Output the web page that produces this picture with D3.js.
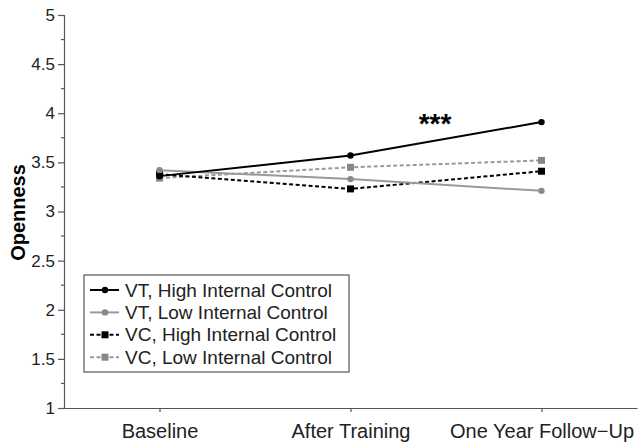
<!DOCTYPE html>
<html>
<head>
<meta charset="utf-8">
<script src="https://cdn.jsdelivr.net/npm/d3@7"></script>
<style>
  body { margin: 0; background: #fff; }
  text { font-family: "Liberation Sans", Arial, sans-serif; }
</style>
</head>
<body>
<div id="chart"></div>
<script>
// Data
const timepoints = ["Baseline", "After Training", "One Year Follow\u2212Up"];
const vtHigh = [3.36, 3.57, 3.91];
const vtLow = [3.42, 3.33, 3.21];
const vcHigh = [3.38, 3.23, 3.41];
const vcLow = [3.34, 3.45, 3.52];
const seriesNames = ["VT, High Internal Control", "VT, Low Internal Control",
                     "VC, High Internal Control", "VC, Low Internal Control"];
const yTicks = [1, 1.5, 2, 2.5, 3, 3.5, 4, 4.5, 5];
const yMinorTicks = [1.25, 1.75, 2.25, 2.75, 3.25, 3.75, 4.25, 4.75];

const series = [
    {name: seriesNames[0], values: vtHigh, color: "#000", dash: null, marker: "circle"},
    {name: seriesNames[1], values: vtLow, color: "#999", dash: null, marker: "circle"},
    {name: seriesNames[2], values: vcHigh, color: "#000", dash: "4,2.5", marker: "square"},
    {name: seriesNames[3], values: vcLow, color: "#999", dash: "4,2.5", marker: "square"}
];

const width = 638, height = 442;
const margin = {top: 15, left: 64, right: 1, bottom: 34};

const svg = d3.select("#chart").append("svg")
    .attr("width", width)
    .attr("height", height);

const xScale = d3.scalePoint()
    .domain(timepoints)
    .range([margin.left, width - margin.right])
    .padding(0.5);

const yScale = d3.scaleLinear()
    .domain([1, 5])
    .range([height - margin.bottom, margin.top]);

const axisColor = "#555";

// y axis
const yAxisGroup = svg.append("g")
    .attr("transform", `translate(${margin.left},0)`)
    .call(d3.axisLeft(yScale).tickValues(yTicks).tickSize(6).tickPadding(3).tickFormat(d3.format("")));
yAxisGroup.selectAll(".tick text").style("font-size", "17px").attr("fill", "#222");

yAxisGroup.selectAll(".minor")
    .data(yMinorTicks)
    .enter().append("line")
    .attr("class", "minor")
    .attr("x1", -3).attr("x2", 0)
    .attr("y1", d => yScale(d)).attr("y2", d => yScale(d));

// x axis
const xAxisGroup = svg.append("g")
    .attr("transform", `translate(0,${height - margin.bottom})`)
    .call(d3.axisBottom(xScale).tickSize(4).tickPadding(12).tickSizeOuter(0));
xAxisGroup.selectAll(".tick text").style("font-size", "20px").attr("fill", "#222");

svg.selectAll(".domain, .tick line, .minor")
    .attr("stroke", axisColor)
    .attr("stroke-width", 1.2);

// y label
svg.append("text")
    .attr("transform", `translate(25,${(yScale(1) + yScale(5)) / 2 + 1}) rotate(-90)`)
    .attr("text-anchor", "middle")
    .style("font-size", "20px")
    .style("font-weight", "bold")
    .text("Openness");

// lines
const line = d3.line()
    .x((d, i) => xScale(timepoints[i]))
    .y(d => yScale(d));

const seriesGroup = svg.append("g");
series.slice().reverse().forEach(s => {
    seriesGroup.append("path")
        .datum(s.values)
        .attr("fill", "none")
        .attr("stroke", s.color)
        .attr("stroke-width", 2)
        .attr("stroke-dasharray", s.dash)
        .attr("d", line);
    drawMarkers(seriesGroup, s, s.values.map((v, i) => [xScale(timepoints[i]), yScale(v)]));
});

function drawMarkers(g, s, pts) {
    const fill = s.color === "#000" ? "#000" : "#888";
    if (s.marker === "circle") {
        g.selectAll(null).data(pts).enter().append("circle")
            .attr("cx", d => d[0]).attr("cy", d => d[1])
            .attr("r", 3.2).attr("fill", fill);
    } else {
        g.selectAll(null).data(pts).enter().append("rect")
            .attr("x", d => d[0] - 3.5).attr("y", d => d[1] - 3.5)
            .attr("width", 7).attr("height", 7).attr("fill", fill);
    }
}

// significance mark
svg.append("text")
    .attr("x", (xScale(timepoints[1]) + xScale(timepoints[2])) / 2 - 11)
    .attr("y", yScale(3.8))
    .attr("text-anchor", "middle")
    .style("font-size", "28px")
    .style("font-weight", "bold")
    .text("***");

// legend
const legend = svg.append("g").attr("transform", "translate(84,275)");
legend.append("rect")
    .attr("width", 265).attr("height", 97)
    .attr("fill", "#fff")
    .attr("stroke", axisColor)
    .attr("stroke-width", 1.2);

series.forEach((s, i) => {
    const row = legend.append("g").attr("transform", `translate(0,${15 + i * 22.4})`);
    row.append("line")
        .attr("x1", 6).attr("x2", 35)
        .attr("stroke", s.color)
        .attr("stroke-width", 2)
        .attr("stroke-dasharray", s.dash);
    drawMarkers(row, s, [[21, 0]]);
    row.append("text")
        .attr("x", 41)
        .attr("y", 0)
        .attr("dy", "0.35em")
        .style("font-size", "19px")
        .attr("fill", "#222")
        .text(s.name);
});
</script>
</body>
</html>
